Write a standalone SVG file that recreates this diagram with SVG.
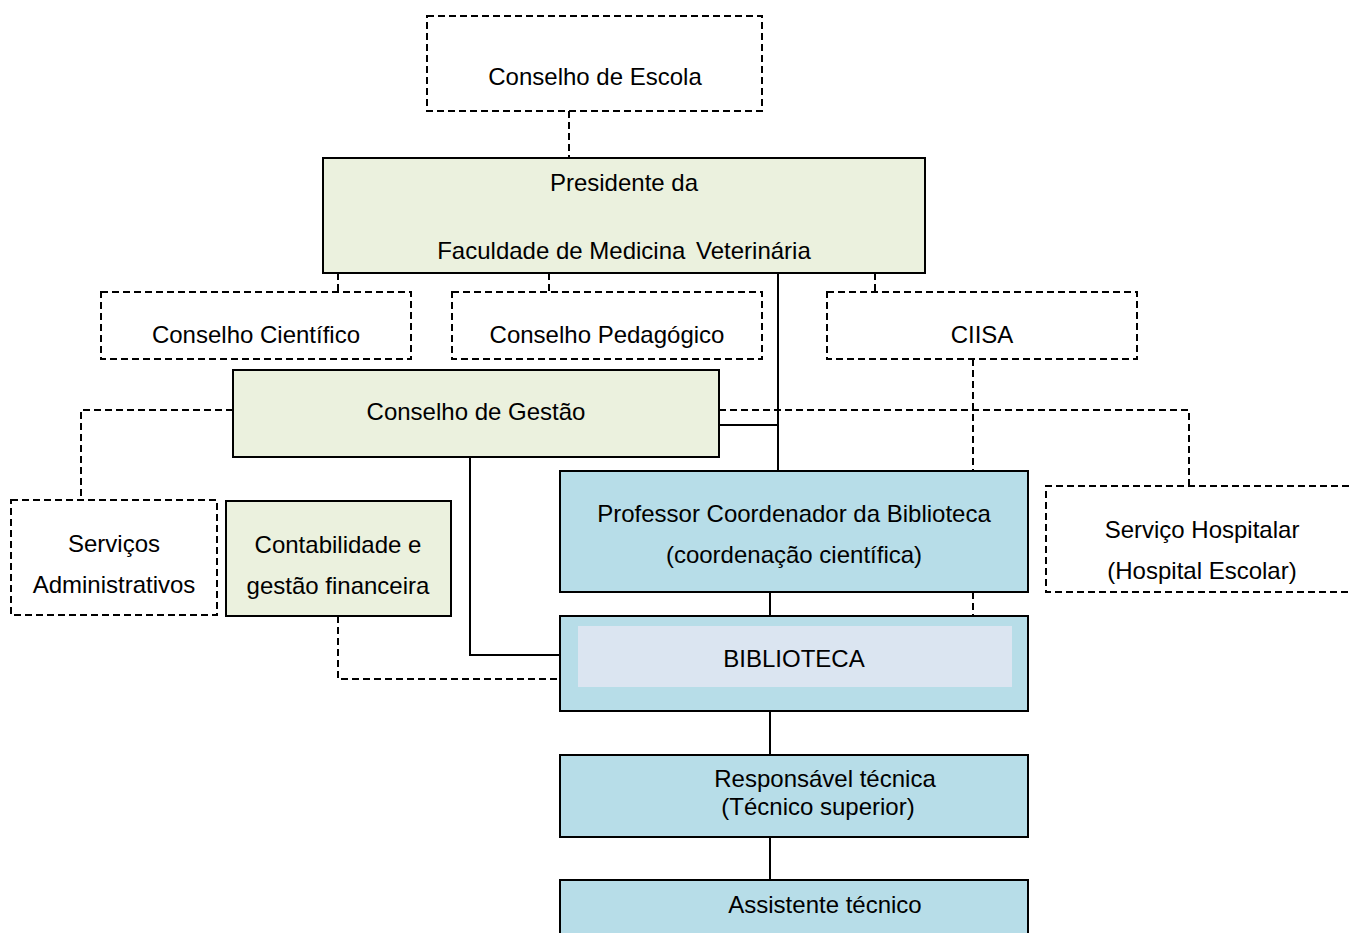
<svg xmlns="http://www.w3.org/2000/svg" width="1351" height="933" viewBox="0 0 1351 933">
<style>
  text { font-family: "Liberation Sans", Arial, sans-serif; font-size: 24px; fill: #000; text-anchor: middle; }
  .dash { fill: #fff; stroke: #000; stroke-width: 2; stroke-dasharray: 7,4; }
  .green { fill: #ebf1de; stroke: #000; stroke-width: 2; }
  .blue { fill: #b7dde8; stroke: #000; stroke-width: 2; }
  .inner { fill: #dbe5f1; stroke: none; }
  .c { fill: none; stroke: #000; stroke-width: 2; }
  .cd { fill: none; stroke: #000; stroke-width: 2; stroke-dasharray: 7,4; }
</style>
<rect width="1351" height="933" fill="#fff"/>
<g id="connectors">
  <path class="cd" d="M569,111 V158"/>
  <path class="cd" d="M338,273 V292"/>
  <path class="cd" d="M549,273 V292"/>
  <path class="cd" d="M875,273 V292"/>
  <path class="c" d="M778,273 V471"/>
  <path class="c" d="M719,425 H778"/>
  <path class="cd" d="M233,410 H81 V500"/>
  <path class="cd" d="M719,410 H1189 V486"/>
  <path class="cd" d="M973,359 V471"/>
  <path class="cd" d="M973,592 V616"/>
  <path class="c" d="M470,457 V655 H560"/>
  <path class="cd" d="M338,616 V679 H560"/>
  <path class="c" d="M770,592 V616"/>
  <path class="c" d="M770,711 V755"/>
  <path class="c" d="M770,837 V880"/>
</g>
<g id="conselho-escola">
  <rect class="dash" x="427" y="16" width="335" height="95"/>
  <text x="595" y="85">Conselho de Escola</text>
</g>
<g id="presidente">
  <rect class="green" x="323" y="158" width="602" height="115"/>
  <text x="624" y="191">Presidente da</text>
  <text x="624" y="259">Faculdade de Medicina <tspan dx="4">Veterinária</tspan></text>
</g>
<g id="conselho-cientifico">
  <rect class="dash" x="101" y="292" width="310" height="67"/>
  <text x="256" y="343">Conselho Científico</text>
</g>
<g id="conselho-pedagogico">
  <rect class="dash" x="452" y="292" width="310" height="67"/>
  <text x="607" y="343">Conselho Pedagógico</text>
</g>
<g id="ciisa">
  <rect class="dash" x="827" y="292" width="310" height="67"/>
  <text x="982" y="343">CIISA</text>
</g>
<g id="conselho-gestao">
  <rect class="green" x="233" y="370" width="486" height="87"/>
  <text x="476" y="420">Conselho de Gestão</text>
</g>
<g id="servicos-administrativos">
  <rect class="dash" x="11" y="500" width="206" height="115"/>
  <text x="114" y="552">Serviços</text>
  <text x="114" y="593">Administrativos</text>
</g>
<g id="contabilidade">
  <rect class="green" x="226" y="501" width="225" height="115"/>
  <text x="338" y="553">Contabilidade e</text>
  <text x="338" y="594">gestão financeira</text>
</g>
<g id="professor-coordenador">
  <rect class="blue" x="560" y="471" width="468" height="121"/>
  <text x="794" y="522">Professor Coordenador da Biblioteca</text>
  <text x="794" y="563">(coordenação científica)</text>
</g>
<g id="servico-hospitalar">
  <path class="cd" d="M1360,486 H1046 V592 H1360"/>
  <text x="1202" y="538">Serviço Hospitalar</text>
  <text x="1202" y="579">(Hospital Escolar)</text>
</g>
<g id="biblioteca">
  <rect class="blue" x="560" y="616" width="468" height="95"/>
  <rect class="inner" x="578" y="626" width="434" height="61"/>
  <text x="794" y="667">BIBLIOTECA</text>
</g>
<g id="responsavel-tecnica">
  <rect class="blue" x="560" y="755" width="468" height="82"/>
  <text x="825" y="787">Responsável técnica</text>
  <text x="818" y="815">(Técnico superior)</text>
</g>
<g id="assistente-tecnico">
  <rect class="blue" x="560" y="880" width="468" height="70"/>
  <text x="825" y="913">Assistente técnico</text>
</g>
</svg>
